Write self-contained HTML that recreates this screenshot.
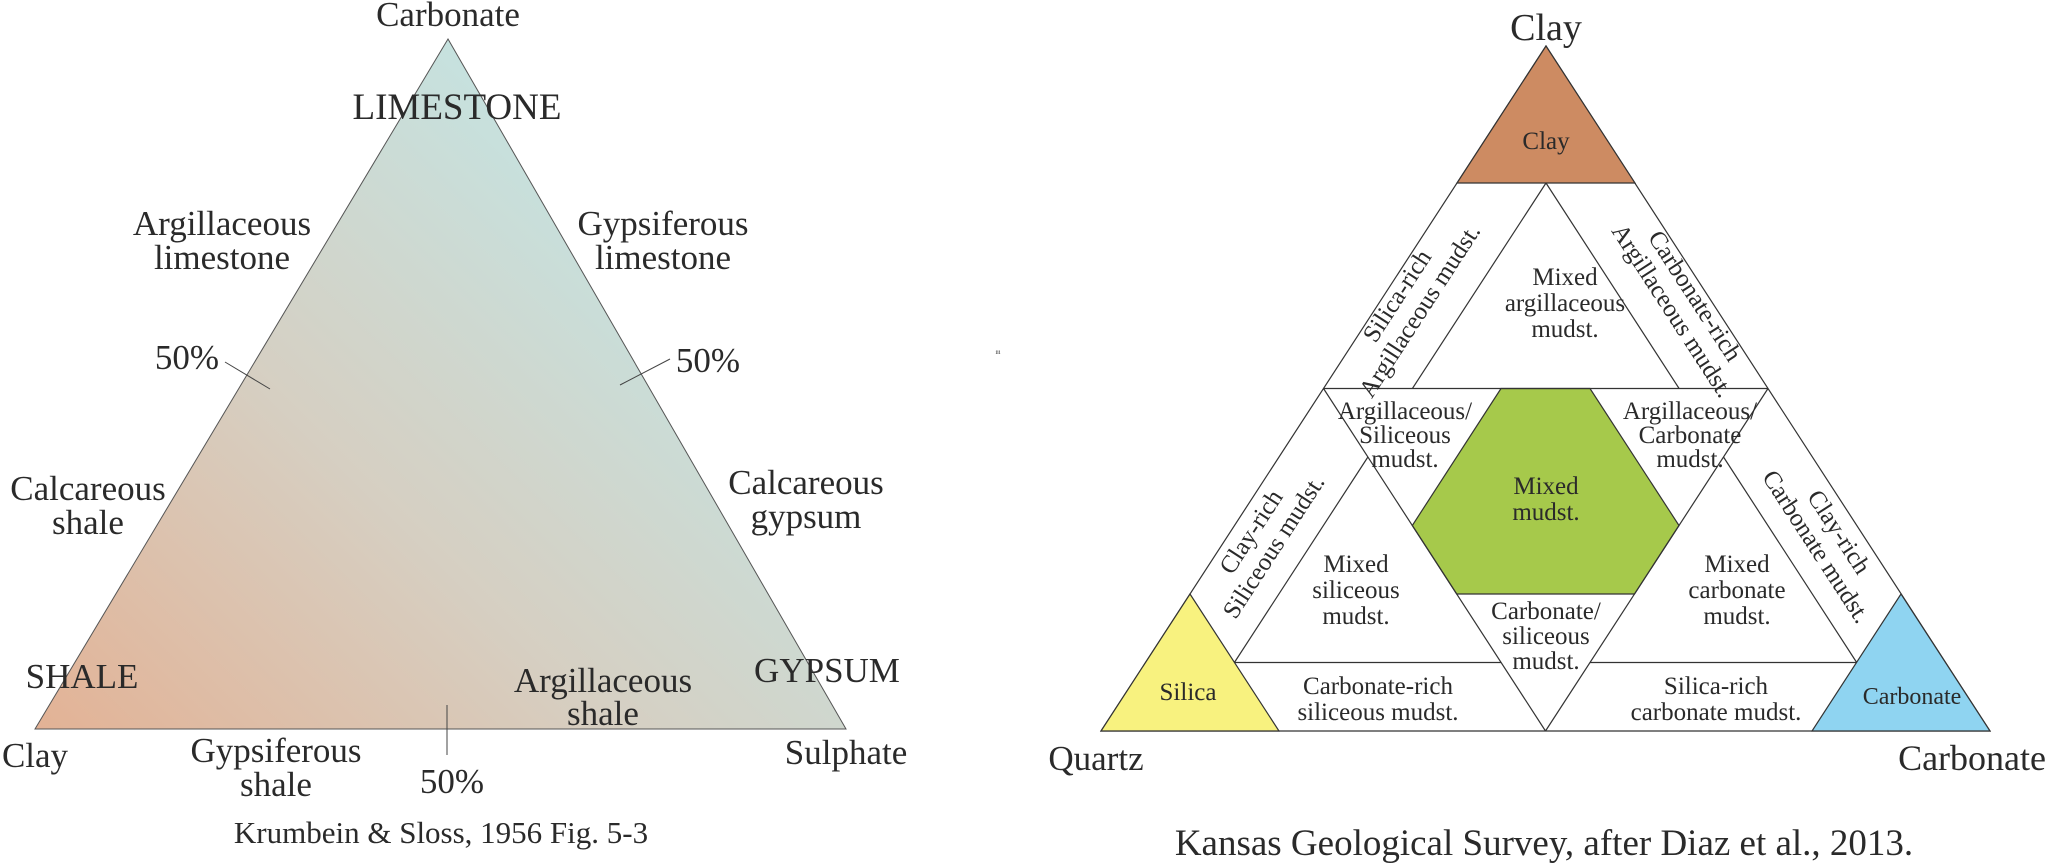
<!DOCTYPE html>
<html><head><meta charset="utf-8"><style>
html,body{margin:0;padding:0;background:#fff;}
svg{display:block;}
text{font-family:"Liberation Serif",serif;fill:#2a2a2a;}
</style></head><body>
<svg width="2048" height="866" viewBox="0 0 2048 866" xmlns="http://www.w3.org/2000/svg">
<defs>
<linearGradient id="g1" x1="35" y1="729" x2="600" y2="150" gradientUnits="userSpaceOnUse">
<stop offset="0" stop-color="#e3b295"/>
<stop offset="0.5" stop-color="#d6cfc2"/>
<stop offset="1" stop-color="#c5e3e1"/>
</linearGradient>
</defs>
<!-- Left diagram -->
<polygon points="448,39 35,729 846,729" fill="url(#g1)" stroke="#555" stroke-width="1"/>
<line x1="225" y1="362" x2="270" y2="389" stroke="#444" stroke-width="1"/>
<line x1="620" y1="385" x2="670" y2="359" stroke="#444" stroke-width="1"/>
<line x1="447" y1="705" x2="447" y2="755" stroke="#444" stroke-width="1"/>
<g font-size="35">
<text x="448" y="26" text-anchor="middle">Carbonate</text>
<text x="457" y="119" text-anchor="middle" font-size="37">LIMESTONE</text>
<text x="222" y="235" text-anchor="middle">Argillaceous</text>
<text x="222" y="269" text-anchor="middle">limestone</text>
<text x="663" y="235" text-anchor="middle">Gypsiferous</text>
<text x="663" y="269" text-anchor="middle">limestone</text>
<text x="187" y="369" text-anchor="middle">50%</text>
<text x="708" y="372" text-anchor="middle">50%</text>
<text x="88" y="500" text-anchor="middle">Calcareous</text>
<text x="88" y="534" text-anchor="middle">shale</text>
<text x="806" y="494" text-anchor="middle">Calcareous</text>
<text x="806" y="528" text-anchor="middle">gypsum</text>
<text x="82" y="688" text-anchor="middle">SHALE</text>
<text x="827" y="682" text-anchor="middle">GYPSUM</text>
<text x="603" y="692" text-anchor="middle">Argillaceous</text>
<text x="603" y="725" text-anchor="middle">shale</text>
<text x="35" y="767" text-anchor="middle">Clay</text>
<text x="276" y="762" text-anchor="middle">Gypsiferous</text>
<text x="276" y="796" text-anchor="middle">shale</text>
<text x="452" y="793" text-anchor="middle">50%</text>
<text x="846" y="764" text-anchor="middle">Sulphate</text>
<text x="441" y="843" text-anchor="middle" font-size="31">Krumbein &amp; Sloss, 1956 Fig. 5-3</text>
</g>
<text x="998" y="354" font-size="6" fill="#bbb" text-anchor="middle">iii</text>

<!-- Right diagram -->
<g stroke="#333" stroke-width="1.2" fill="none">
<polygon points="1546,46 1101,731 1990,731" fill="#fff"/>
<polygon points="1546,46 1457,183 1635,183" fill="#cd8b62"/>
<polygon points="1101,731 1190,594 1279,731" fill="#f8f27f"/>
<polygon points="1990,731 1901,594 1812,731" fill="#8fd4f1"/>
<polygon points="1501,388.5 1590,388.5 1679,525.5 1634.5,594 1456.7,594 1412.3,525.5" fill="#a6c94b"/>
<line x1="1323.5" y1="388.5" x2="1768" y2="388.5"/>
<line x1="1323.5" y1="388.5" x2="1545.5" y2="731"/>
<line x1="1768" y1="388.5" x2="1545.5" y2="731"/>
<line x1="1546" y1="183" x2="1412.4" y2="388.5"/>
<line x1="1546" y1="183" x2="1679.1" y2="388.5"/>
<line x1="1367.9" y1="457" x2="1234.4" y2="662.5"/>
<line x1="1234.4" y1="662.5" x2="1501.1" y2="662.5"/>
<line x1="1723.5" y1="457" x2="1856.7" y2="662.5"/>
<line x1="1856.7" y1="662.5" x2="1590" y2="662.5"/>
</g>
<g font-size="25" text-anchor="middle">
<text x="1546" y="40" font-size="38">Clay</text>
<text x="1096" y="770" font-size="35">Quartz</text>
<text x="2046" y="770" font-size="36" text-anchor="end">Carbonate</text>
<text x="1546" y="149">Clay</text>
<text x="1188" y="700">Silica</text>
<text x="1912" y="704" font-size="24">Carbonate</text>
<text x="1565" y="285">Mixed</text>
<text x="1565" y="311">argillaceous</text>
<text x="1565" y="337">mudst.</text>
<text transform="translate(1408,303) rotate(-57)"><tspan x="0" y="-5">Silica-rich</tspan><tspan x="0" y="22">Argillaceous mudst.</tspan></text>
<text transform="translate(1684,303) rotate(57)"><tspan x="0" y="-5">Carbonate-rich</tspan><tspan x="0" y="22">Argillaceous mudst.</tspan></text>
<text transform="translate(1262,539) rotate(-57)"><tspan x="0" y="-5">Clay-rich</tspan><tspan x="0" y="22">Siliceous mudst.</tspan></text>
<text transform="translate(1828,539) rotate(57)"><tspan x="0" y="-5">Clay-rich</tspan><tspan x="0" y="22">Carbonate mudst.</tspan></text>
<text x="1405" y="419">Argillaceous/</text>
<text x="1405" y="443">Siliceous</text>
<text x="1405" y="467">mudst.</text>
<text x="1690" y="419">Argillaceous/</text>
<text x="1690" y="443">Carbonate</text>
<text x="1690" y="467">mudst.</text>
<text x="1546" y="494">Mixed</text>
<text x="1546" y="520">mudst.</text>
<text x="1356" y="572">Mixed</text>
<text x="1356" y="598">siliceous</text>
<text x="1356" y="624">mudst.</text>
<text x="1737" y="572">Mixed</text>
<text x="1737" y="598">carbonate</text>
<text x="1737" y="624">mudst.</text>
<text x="1546" y="619">Carbonate/</text>
<text x="1546" y="644">siliceous</text>
<text x="1546" y="669">mudst.</text>
<text x="1378" y="694">Carbonate-rich</text>
<text x="1378" y="720">siliceous  mudst.</text>
<text x="1716" y="694">Silica-rich</text>
<text x="1716" y="720">carbonate  mudst.</text>
<text x="1544" y="855" font-size="37">Kansas Geological Survey, after Diaz et al., 2013.</text>
</g>
</svg>
</body></html>
